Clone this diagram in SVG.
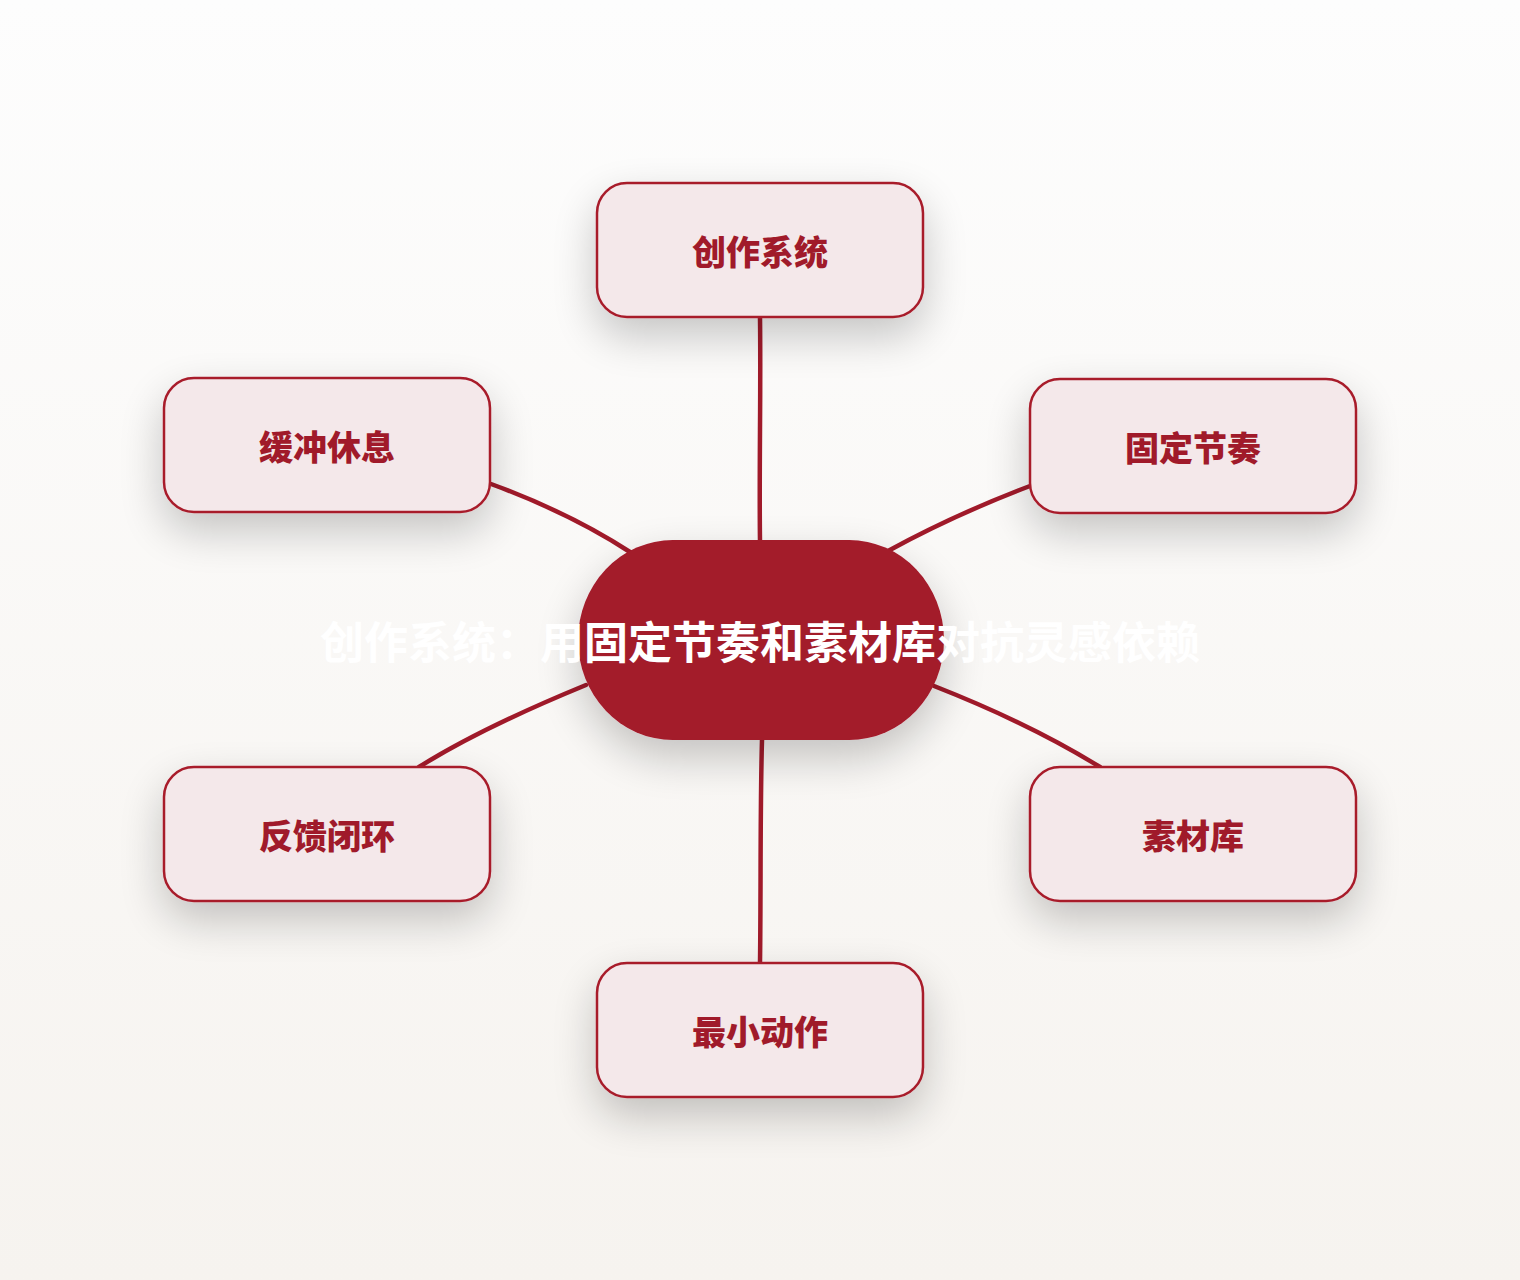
<svg xmlns="http://www.w3.org/2000/svg" width="1520" height="1280" viewBox="0 0 1520 1280">
  <defs>
    <linearGradient id="bg" x1="0" y1="0" x2="0" y2="1">
      <stop offset="0" stop-color="#fdfdfd"/>
      <stop offset="1" stop-color="#f6f3ef"/>
    </linearGradient>
    <filter id="shadow" x="-40%" y="-40%" width="180%" height="200%">
      <feGaussianBlur in="SourceAlpha" stdDeviation="22"/>
      <feOffset dx="0" dy="18" result="b"/>
      <feComponentTransfer><feFuncA type="linear" slope="0.22"/></feComponentTransfer>
      <feMerge><feMergeNode/><feMergeNode in="SourceGraphic"/></feMerge>
    </filter>
    <style>
      .box { fill: #f4e8ea; stroke: #a81c2c; stroke-width: 2.5; }
      .lbl { font-family: "Noto Sans CJK SC", "Noto Sans", sans-serif; font-weight: 900; font-size: 34px; fill: #a01a2a; text-anchor: middle; }
      .edge { fill: none; stroke: #a01a2a; stroke-width: 4.5; stroke-linecap: round; }
      .hub { fill: #a31a2a; }
      .hubtxt { font-family: "Noto Sans CJK SC", "Noto Sans", sans-serif; font-weight: 700; font-size: 44px; fill: #ffffff; text-anchor: middle; }
    </style>
  </defs>
  <rect x="0" y="0" width="1520" height="1280" fill="url(#bg)"/>
  <g id="connectors">
    <path class="edge" d="M760,318 C761,390 759,470 760,541"/>
    <path class="edge" d="M491,484 C540,502 590,526 630,552"/>
    <path class="edge" d="M1030,486 C980,505 930,528 888,551"/>
    <path class="edge" d="M586,685 C530,708 470,735 419,767"/>
    <path class="edge" d="M934,686 C990,708 1050,736 1100,767"/>
    <path class="edge" d="M762,740 C760,810 761,890 760,963"/>
  </g>
  <g id="node-top">
    <rect class="box" x="597" y="183" width="326" height="134" rx="30" filter="url(#shadow)"/>
    <text class="lbl" x="760" y="265">创作系统</text>
  </g>
  <g id="node-ul">
    <rect class="box" x="164" y="378" width="326" height="134" rx="30" filter="url(#shadow)"/>
    <text class="lbl" x="327" y="460">缓冲休息</text>
  </g>
  <g id="node-ur">
    <rect class="box" x="1030" y="379" width="326" height="134" rx="30" filter="url(#shadow)"/>
    <text class="lbl" x="1193" y="461">固定节奏</text>
  </g>
  <g id="node-ll">
    <rect class="box" x="164" y="767" width="326" height="134" rx="30" filter="url(#shadow)"/>
    <text class="lbl" x="327" y="849">反馈闭环</text>
  </g>
  <g id="node-lr">
    <rect class="box" x="1030" y="767" width="326" height="134" rx="30" filter="url(#shadow)"/>
    <text class="lbl" x="1193" y="849">素材库</text>
  </g>
  <g id="node-bottom">
    <rect class="box" x="597" y="963" width="326" height="134" rx="30" filter="url(#shadow)"/>
    <text class="lbl" x="760" y="1045">最小动作</text>
  </g>
  <g id="node-center">
    <rect class="hub" x="578" y="540" width="366" height="200" rx="95" ry="100" filter="url(#shadow)"/>
    <text class="hubtxt" x="760" y="659">创作系统：用固定节奏和素材库对抗灵感依赖</text>
  </g>
</svg>
